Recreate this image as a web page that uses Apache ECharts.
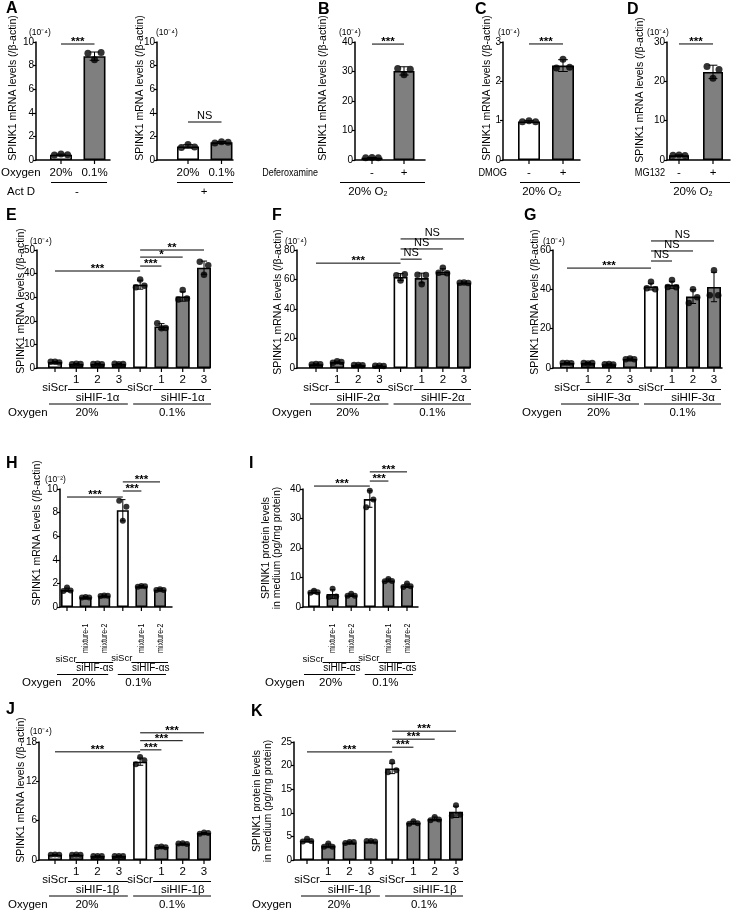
<!DOCTYPE html>
<html>
<head>
<meta charset="utf-8">
<script src="https://cdn.jsdelivr.net/npm/echarts@6.0.0/dist/echarts.min.js"></script>
<style>html,body{margin:0;padding:0;background:#fff;}#chart{width:737px;height:917px;}</style>
</head>
<body>
<div id="chart"></div>
<script>
// ================= DATA =================
const oxygenLevels = ['20%', '0.1%'];
const siCats = ['siScr', '1', '2', '3', 'siScr', '1', '2', '3'];
const mixCats = ['siScr', 'mixture-1', 'mixture-2', 'siScr', 'mixture-1', 'mixture-2'];

// A (left): Act D -
const aLeftCats = ['20%', '0.1%'];
const aLeftTicks = [0, 2, 4, 6, 8, 10];
const aLeftMean = [0.45, 8.8];
const aLeftSD = [0.05, 0.35];
const aLeftDots = [[0.42, 0.5, 0.45], [9.05, 8.5, 9.1]];
const aLeftSig = [[0, 1, 9.83, '***']];

// A (right): Act D +
const aRightCats = ['20%', '0.1%'];
const aRightTicks = [0, 2, 4, 6, 8, 10];
const aRightMean = [1.15, 1.5];
const aRightSD = [0.15, 0.07];
const aRightDots = [[1.05, 1.32, 1.1], [1.45, 1.55, 1.5]];
const aRightSig = [[0, 1, 3.22, 'NS']];

// B: Deferoxamine
const bCats = ['-', '+'];
const bTicks = [0, 10, 20, 30, 40];
const bMean = [0.8, 30.2];
const bSD = [0.05, 1.4];
const bDots = [[0.8, 0.85, 0.75], [31.0, 28.9, 30.8]];
const bSig = [[0, 1, 39.3, '***']];

// C: DMOG
const cCats = ['-', '+'];
const cTicks = [0, 1, 2, 3];
const cMean = [0.98, 2.40];
const cSD = [0.02, 0.15];
const cDots = [[0.97, 1.0, 0.97], [2.34, 2.56, 2.36]];
const cSig = [[0, 1, 2.95, '***']];

// D: MG132
const dCats = ['-', '+'];
const dTicks = [0, 10, 20, 30];
const dMean = [1.2, 22.4];
const dSD = [0.1, 1.7];
const dDots = [[1.2, 1.25, 1.15], [23.8, 20.8, 23.0]];
const dSig = [[0, 1, 29.5, '***']];

// E: siHIF-1α
const eTicks = [0, 10, 20, 30, 40, 50];
const eMean = [2.5, 1.7, 1.7, 1.7, 35.3, 17.6, 30.3, 42.5];
const eSD = [0.3, 0.2, 0.2, 0.2, 1.9, 1.2, 2.0, 2.8];
const eDots = [[2.6, 2.7, 2.3], [1.6, 1.8, 1.7], [1.7, 1.8, 1.6], [1.8, 1.6, 1.7], [34.2, 37.5, 34.8], [19.0, 16.8, 17.0], [29.0, 33.0, 29.5], [45.0, 39.5, 43.5]];
const eSig = [[0, 4, 41.1, '***'], [4, 5, 43.2, '***'], [4, 6, 47.0, '*'], [4, 7, 50.0, '**']];

// F: siHIF-2α
const fTicks = [0, 20, 40, 60, 80];
const fMean = [2.5, 4.0, 2.0, 1.5, 61.7, 61.0, 65.3, 57.8];
const fSD = [0.3, 0.6, 0.2, 0.2, 2.3, 3.3, 2.0, 0.5];
const fDots = [[2.4, 2.7, 2.5], [3.6, 4.5, 4.0], [2.0, 2.1, 1.9], [1.5, 1.6, 1.4], [62.8, 59.4, 63.6], [63.3, 56.8, 63.0], [64.6, 68.0, 64.2], [57.8, 58.0, 57.6]];
const fSig = [[0, 4, 71.1, '***'], [4, 5, 73.8, 'NS'], [4, 6, 80.7, 'NS'], [4, 7, 87.5, 'NS']];

// G: siHIF-3α
const gTicks = [0, 20, 40, 60];
const gMean = [2.5, 2.5, 1.9, 4.6, 41.4, 42.3, 36.3, 41.2];
const gSD = [0.3, 0.3, 0.2, 0.4, 1.7, 1.8, 3.5, 7.5];
const gDots = [[2.6, 2.5, 2.4], [2.6, 2.3, 2.6], [1.9, 2.0, 1.8], [4.5, 4.8, 4.5], [40.5, 43.8, 40.0], [41.2, 44.8, 41.0], [33.0, 40.0, 36.0], [37.0, 49.7, 37.0]];
const gSig = [[0, 4, 50.8, '***'], [4, 5, 54.4, 'NS'], [4, 6, 59.5, 'NS'], [4, 7, 64.6, 'NS']];

// H: siHIF-αs mRNA
const hTicks = [0, 2, 4, 6, 8, 10];
const hMean = [1.45, 0.82, 0.95, 8.2, 1.75, 1.47];
const hSD = [0.15, 0.05, 0.05, 0.9, 0.07, 0.08];
const hDots = [[1.35, 1.65, 1.4], [0.8, 0.85, 0.8], [0.93, 0.98, 0.95], [9.0, 7.3, 8.5], [1.72, 1.78, 1.75], [1.45, 1.5, 1.45]];
const hSig = [[0, 3, 9.32, '***'], [3, 4, 9.83, '***'], [3, 5, 10.6, '***']];

// I: siHIF-αs protein
const iTicks = [0, 10, 20, 30, 40];
const iMean = [5.1, 4.4, 4.0, 36.6, 9.0, 7.2];
const iSD = [0.6, 1.5, 0.4, 2.8, 0.5, 0.6];
const iDots = [[4.8, 5.5, 5.0], [3.4, 6.2, 3.6], [3.8, 4.5, 3.8], [33.8, 39.4, 36.4], [8.7, 9.5, 8.8], [6.8, 8.0, 7.0]];
const iSig = [[0, 3, 41.0, '***'], [3, 4, 42.7, '***'], [3, 5, 45.8, '***']];

// J: siHIF-1β mRNA
const jTicks = [0, 6, 12, 18];
const jMean = [0.8, 0.8, 0.6, 0.6, 15.0, 2.0, 2.5, 4.1];
const jSD = [0.05, 0.05, 0.04, 0.04, 0.55, 0.08, 0.08, 0.1];
const jDots = [[0.8, 0.85, 0.8], [0.8, 0.85, 0.8], [0.6, 0.62, 0.6], [0.6, 0.62, 0.6], [14.6, 15.7, 15.2], [2.0, 2.05, 1.95], [2.5, 2.55, 2.45], [4.0, 4.2, 4.1]];
const jSig = [[0, 4, 16.5, '***'], [4, 5, 16.8, '***'], [4, 6, 18.2, '***'], [4, 7, 19.4, '***']];

// K: siHIF-1β protein
const kTicks = [0, 5, 10, 15, 20, 25];
const kMean = [4.1, 3.0, 3.7, 3.9, 19.4, 7.9, 8.7, 10.2];
const kSD = [0.3, 0.4, 0.15, 0.15, 1.1, 0.3, 0.4, 1.2];
const kDots = [[3.9, 4.5, 4.0], [2.8, 3.5, 2.8], [3.6, 3.8, 3.8], [4.0, 4.0, 3.9], [18.6, 20.8, 19.0], [7.7, 8.2, 7.8], [8.4, 9.1, 8.6], [9.4, 11.6, 9.6]];
const kSig = [[0, 4, 22.9, '***'], [4, 5, 23.9, '***'], [4, 6, 25.6, '***'], [4, 7, 27.3, '***']];

// ================= LAYOUT / STYLE =================
const FONT = 'Liberation Sans, Arial, Helvetica, sans-serif';
const GRAY = '#7f7f7f';
const W8 = [1, 0, 0, 0, 1, 0, 0, 0];
const W6 = [1, 0, 0, 1, 0, 0];
const CAT_FS = 11.5;

const panels = [
  {kind: 'two', cats: aLeftCats, ticks: aLeftTicks, mean: aLeftMean, sd: aLeftSD, dots: aLeftDots, sig: aLeftSig, white: [1, 0],
   lay: {axisX: 36, xEnd: 110, yTop: 42, yZero: 160, first: 61, last: 94.5, barW: 22, dot: 7},
   lab: {left: {text: 'Oxygen', x: 1, align: 'left'}, line: [51, 107], row2: [{text: 'Act D', x: 7, align: 'left'}, {text: '-', x: 77}]}},
  {kind: 'two', cats: aRightCats, ticks: aRightTicks, mean: aRightMean, sd: aRightSD, dots: aRightDots, sig: aRightSig, white: [1, 0],
   lay: {axisX: 157, xEnd: 233, yTop: 42, yZero: 160, first: 188, last: 221.5, barW: 22, dot: 7},
   lab: {line: [177, 233], row2: [{text: '+', x: 204}]}},
  {kind: 'two', cats: bCats, ticks: bTicks, mean: bMean, sd: bSD, dots: bDots, sig: bSig, white: [1, 0],
   lay: {axisX: 355, xEnd: 425, yTop: 42, yZero: 160, first: 372, last: 404, barW: 21, dot: 7},
   lab: {left: {text: 'Deferoxamine', x: 318, align: 'right', sx: 0.78}, line: [340, 425], row2: [{text: '20% O₂', x: 368}]}},
  {kind: 'two', cats: cCats, ticks: cTicks, mean: cMean, sd: cSD, dots: cDots, sig: cSig, white: [1, 0],
   lay: {axisX: 503, xEnd: 580, yTop: 42, yZero: 160, first: 529, last: 563, barW: 22, dot: 7},
   lab: {left: {text: 'DMOG', x: 507, align: 'right', sx: 0.8}, line: [520, 580], row2: [{text: '20% O₂', x: 542}]}},
  {kind: 'two', cats: dCats, ticks: dTicks, mean: dMean, sd: dSD, dots: dDots, sig: dSig, white: [1, 0],
   lay: {axisX: 667, xEnd: 730, yTop: 42, yZero: 160, first: 679, last: 713, barW: 20, dot: 7},
   lab: {left: {text: 'MG132', x: 665, align: 'right', sx: 0.8}, line: [670, 730], row2: [{text: '20% O₂', x: 693}]}},
  {kind: 'eight', cats: siCats, group: 'siHIF-1α', ticks: eTicks, mean: eMean, sd: eSD, dots: eDots, sig: eSig, white: W8,
   lay: {axisX: 37, xEnd: 210, yTop: 250, yZero: 368, first: 55, last: 204, barW: 14, dot: 6.5}, lab: {oxX: 8}},
  {kind: 'eight', cats: siCats, group: 'siHIF-2α', ticks: fTicks, mean: fMean, sd: fSD, dots: fDots, sig: fSig, white: W8,
   lay: {axisX: 297, xEnd: 470, yTop: 250, yZero: 368, first: 316, last: 464, barW: 14, dot: 6.5}, lab: {oxX: 272}},
  {kind: 'eight', cats: siCats, group: 'siHIF-3α', ticks: gTicks, mean: gMean, sd: gSD, dots: gDots, sig: gSig, white: W8,
   lay: {axisX: 553, xEnd: 722, yTop: 250, yZero: 368, first: 567, last: 714, barW: 14, dot: 6.5}, lab: {oxX: 522}},
  {kind: 'six', cats: mixCats, group: 'siHIF-αs', ticks: hTicks, mean: hMean, sd: hSD, dots: hDots, sig: hSig, white: W6,
   lay: {axisX: 60, xEnd: 172, yTop: 489, yZero: 607, first: 67, last: 160, barW: 12, dot: 6}, lab: {oxX: 22}},
  {kind: 'six', cats: mixCats, group: 'siHIF-αs', ticks: iTicks, mean: iMean, sd: iSD, dots: iDots, sig: iSig, white: W6,
   lay: {axisX: 303, xEnd: 418, yTop: 489, yZero: 607, first: 314, last: 407, barW: 12, dot: 6}, lab: {oxX: 265}},
  {kind: 'eight', cats: siCats, group: 'siHIF-1β', ticks: jTicks, mean: jMean, sd: jSD, dots: jDots, sig: jSig, white: W8,
   lay: {axisX: 39, xEnd: 210, yTop: 742, yZero: 860, first: 55, last: 204, barW: 14, dot: 6}, lab: {oxX: 8}},
  {kind: 'eight', cats: siCats, group: 'siHIF-1β', ticks: kTicks, mean: kMean, sd: kSD, dots: kDots, sig: kSig, white: W8,
   lay: {axisX: 294, xEnd: 462, yTop: 742, yZero: 860, first: 307, last: 456, barW: 14, dot: 6}, lab: {oxX: 252}}
];

const MRNA = 'SPINK1 mRNA levels (/β-actin)';
const PROT = 'SPINK1 protein levels\nin medium (pg/mg protein)';
const E4 = '(10⁻⁴)', E2 = '(10⁻²)';
const letters = [['A', 6, 9], ['B', 318, 10], ['C', 475, 10], ['D', 627, 10], ['E', 6, 216], ['F', 272, 216], ['G', 524, 216],
  ['H', 6, 464], ['I', 249, 464], ['J', 6, 710], ['K', 251, 712]];
const yTitles = [[MRNA, 13, 88], [MRNA, 140, 88], [MRNA, 323, 88], [MRNA, 487, 88], [MRNA, 640, 90],
  [MRNA, 21, 301], [MRNA, 278, 302], [MRNA, 535, 302], [MRNA, 37, 533], [PROT, 271.5, 548], [MRNA, 21, 790], [PROT, 262.5, 801]];
const exps = [[E4, 29, 33], [E4, 156, 33], [E4, 339, 33], [E4, 498, 33], [E4, 647, 33], [E4, 30, 242], [E4, 285, 242],
  [E4, 543, 242], [E2, 45, 480], [E4, 30, 732]];

// ================= HELPERS =================
function tx(t, x, y, size, o) {
  o = o || {};
  const st = {text: t, x: 0, y: 0, fill: '#000', fontSize: size, fontFamily: FONT, fontWeight: o.bold ? 'bold' : 'normal',
    align: o.align || 'center', verticalAlign: o.va || 'middle', textAlign: o.align || 'center', textVerticalAlign: o.va || 'middle'};
  if (o.lh) st.lineHeight = o.lh;
  return {type: 'text', x: x, y: y, rotation: o.rot || 0, scaleX: o.sx || 1, silent: true, style: st};
}
function ln(x1, y1, x2, y2, w) {
  return {type: 'line', silent: true, shape: {x1: x1, y1: y1, x2: x2, y2: y2}, style: {stroke: '#000', lineWidth: w || 1}};
}

function annTwo(p, cx, y0, ch) {
  p.cats.forEach((c, k) => ch.push(tx(c, cx(k), y0 + 13, CAT_FS)));
  const L = p.lab;
  if (L.left) ch.push(tx(L.left.text, L.left.x, y0 + 13, CAT_FS, {align: L.left.align, sx: L.left.sx}));
  ch.push(ln(L.line[0], y0 + 22.5, L.line[1], y0 + 22.5, 1));
  L.row2.forEach(r => ch.push(tx(r.text, r.x, y0 + 32, CAT_FS, {align: r.align || 'center'})));
}
function annEight(p, cx, y0, ch) {
  p.cats.forEach((t, k) => {
    if (k % 4 === 0) ch.push(tx(t, cx(k), y0 + 20, CAT_FS));
    else ch.push(tx(t, cx(k), y0 + 12, CAT_FS));
  });
  ch.push(ln(cx(0) + 13, y0 + 21.5, cx(3) + 9, y0 + 21.5));
  ch.push(ln(cx(4) + 13, y0 + 21.5, cx(7) + 7, y0 + 21.5));
  ch.push(tx(p.group, cx(2), y0 + 30, CAT_FS));
  ch.push(tx(p.group, cx(6), y0 + 30, CAT_FS));
  ch.push(ln(cx(0) - 6, y0 + 36, cx(3) + 9, y0 + 36));
  ch.push(ln(cx(4) - 7, y0 + 36, cx(7) + 7, y0 + 36));
  ch.push(tx('Oxygen', p.lab.oxX, y0 + 45, CAT_FS, {align: 'left'}));
  ch.push(tx(oxygenLevels[0], (cx(1) + cx(2)) / 2, y0 + 45, CAT_FS));
  ch.push(tx(oxygenLevels[1], (cx(5) + cx(6)) / 2, y0 + 45, CAT_FS));
}
function annSix(p, cx, y0, ch) {
  [1, 2, 4, 5].forEach(k => ch.push(tx(p.cats[k], cx(k), y0 + 46, 9.5, {rot: Math.PI / 2, align: 'left', sx: 0.74})));
  ch.push(tx(p.cats[0], cx(0) - 1, y0 + 52, 9.5));
  ch.push(tx(p.cats[3], cx(3) - 1, y0 + 51, 9.5));
  ch.push(ln(cx(1) - 10, y0 + 55.5, cx(2) + 9, y0 + 55.5));
  ch.push(ln(cx(4) - 10, y0 + 55.5, cx(5) + 8, y0 + 55.5));
  ch.push(tx(p.group, (cx(1) + cx(2)) / 2, y0 + 61.5, 10));
  ch.push(tx(p.group, (cx(4) + cx(5)) / 2, y0 + 61.5, 10));
  ch.push(ln(cx(0) - 10, y0 + 67.5, cx(2) + 4, y0 + 67.5));
  ch.push(ln(cx(3) - 5, y0 + 67.5, cx(5) + 6, y0 + 67.5));
  ch.push(tx('Oxygen', p.lab.oxX, y0 + 76, CAT_FS, {align: 'left'}));
  ch.push(tx(oxygenLevels[0], cx(1) - 2, y0 + 76, CAT_FS));
  ch.push(tx(oxygenLevels[1], cx(4) - 3, y0 + 76, CAT_FS));
}

// ================= OPTION =================
const option = {animation: false, backgroundColor: '#fff', grid: [], xAxis: [], yAxis: [], series: [], graphic: []};

panels.forEach((p, i) => {
  const L = p.lay;
  const n = p.mean.length;
  const sp = (L.last - L.first) / (n - 1);
  const xmin = -(L.first - L.axisX) / sp;
  const xmax = (n - 1) + (L.xEnd - L.last) / sp;
  const t = p.ticks;
  option.grid.push({left: L.axisX, top: L.yTop, width: L.xEnd - L.axisX, height: L.yZero - L.yTop, outerBoundsMode: 'none', containLabel: false});
  option.xAxis.push({type: 'value', gridIndex: i, min: xmin, max: xmax,
    axisLine: {show: true, onZero: false, lineStyle: {color: '#000', width: 1.5}},
    axisTick: {show: false}, axisLabel: {show: false}, splitLine: {show: false}});
  option.yAxis.push({type: 'value', gridIndex: i, min: t[0], max: t[t.length - 1], interval: t[1] - t[0],
    axisLine: {show: true, onZero: false, lineStyle: {color: '#000', width: 1.5}},
    axisTick: {show: true, length: 3, lineStyle: {color: '#000', width: 1.2}},
    axisLabel: {color: '#000', fontSize: 10, fontFamily: FONT, margin: 2},
    splitLine: {show: false}});

  // bars
  option.series.push({type: 'bar', xAxisIndex: i, yAxisIndex: i, barWidth: L.barW, z: 2, silent: true,
    data: p.mean.map((v, k) => ({value: [k, v], itemStyle: {color: p.white[k] ? '#fff' : GRAY, borderColor: '#000', borderWidth: 1.6}}))});

  // error bars (mean ± SD)
  option.series.push({type: 'custom', xAxisIndex: i, yAxisIndex: i, z: 3, silent: true, clip: false,
    data: p.mean.map((v, k) => [k, v, p.sd[k]]),
    renderItem: (params, api) => {
      const x = api.value(0), m = api.value(1), s = api.value(2);
      const a = api.coord([x, m + s]), b = api.coord([x, m - s]);
      const cw = L.barW * 0.22;
      return {type: 'group', children: [
        ln(a[0], a[1], b[0], b[1], 1),
        ln(a[0] - cw, a[1], a[0] + cw, a[1], 1),
        ln(b[0] - cw, b[1], b[0] + cw, b[1], 1)
      ]};
    }});

  // individual points
  const jit = (L.barW * 0.3) / sp;
  const offs = [-1, 0, 1];
  const pts = [];
  p.dots.forEach((arr, k) => arr.forEach((v, j) => pts.push([k + offs[j] * jit, v])));
  option.series.push({type: 'scatter', xAxisIndex: i, yAxisIndex: i, z: 4, silent: true,
    symbol: 'circle', symbolSize: L.dot, itemStyle: {color: '#000'}, data: pts});

  // annotations: x ticks, significance brackets, category labels
  option.series.push({type: 'custom', xAxisIndex: i, yAxisIndex: i, z: 5, silent: true, clip: false,
    data: [[0, 0]],
    renderItem: (params, api) => {
      const ch = [];
      const cx = k => api.coord([k, 0])[0];
      const y0 = api.coord([0, 0])[1];
      for (let k = 0; k < n; k++) ch.push(ln(cx(k), y0, cx(k), y0 + 4, 1.2));
      p.sig.forEach(s => {
        const a = api.coord([s[0], s[2]]), b = api.coord([s[1], s[2]]);
        ch.push(ln(a[0], a[1], b[0], a[1], 1));
        const isStar = s[3].indexOf('*') >= 0;
        ch.push(tx(s[3], (a[0] + b[0]) / 2, a[1] - (isStar ? 2 : 6), isStar ? 11.5 : 11, {bold: isStar}));
      });
      if (p.kind === 'two') annTwo(p, cx, y0, ch);
      else if (p.kind === 'eight') annEight(p, cx, y0, ch);
      else annSix(p, cx, y0, ch);
      return {type: 'group', children: ch};
    }});
});

letters.forEach(l => option.graphic.push(tx(l[0], l[1], l[2], 16, {bold: true, align: 'left'})));
yTitles.forEach(l => option.graphic.push(tx(l[0], l[1], l[2], 10.5, {rot: Math.PI / 2, lh: 11.5})));
exps.forEach(l => option.graphic.push(tx(l[0], l[1], l[2], 8.5, {align: 'left'})));

const chart = echarts.init(document.getElementById('chart'), null, {renderer: 'canvas'});
chart.setOption(option);
</script>
</body>
</html>
